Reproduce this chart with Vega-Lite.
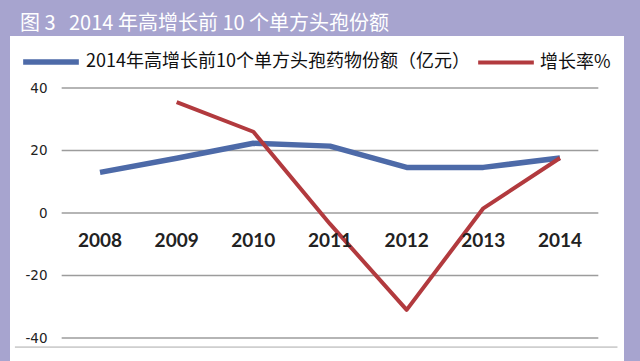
{
  "$schema": "https://vega.github.io/schema/vega-lite/v6.json",
  "width": 640,
  "height": 361,
  "autosize": {"type": "fit", "contains": "padding"},
  "padding": {"left": 10, "right": 16, "top": 14, "bottom": 0},
  "background": "#a7a4cf",
  "title": {
    "text": "图 3\u00a0\u00a0\u00a02014 年高增长前 10 个单方头孢份额",
    "anchor": "start",
    "frame": "group",
    "dx": 10,
    "offset": 2,
    "color": "white",
    "font": "Noto Sans CJK SC",
    "fontSize": 20,
    "fontWeight": "normal"
  },
  "config": {
    "view": {"fill": "white", "stroke": null},
    "axisY": {
      "offset": -40, "domain": false, "ticks": false, "grid": false,
      "labelPadding": 3, "labelFont": "DejaVu Sans", "labelFontSize": 13.5, "labelColor": "#222"
    }
  },
  "datasets": {
    "grid": [{"v": 40}, {"v": 20}, {"v": 0}, {"v": -20}, {"v": -40}],
    "base": [{"y": -42.9, "x1": 2006.89, "x2": 2014.75}],
    "years": [
      {"year": 2008, "label": "2008"}, {"year": 2009, "label": "2009"}, {"year": 2010, "label": "2010"},
      {"year": 2011, "label": "2011"}, {"year": 2012, "label": "2012"}, {"year": 2013, "label": "2013"},
      {"year": 2014, "label": "2014"}
    ],
    "series": [
      {"series": "2014年高增长前10个单方头孢药物份额（亿元）", "year": 2008, "value": 13.0},
      {"series": "2014年高增长前10个单方头孢药物份额（亿元）", "year": 2009, "value": 17.5},
      {"series": "2014年高增长前10个单方头孢药物份额（亿元）", "year": 2010, "value": 22.3},
      {"series": "2014年高增长前10个单方头孢药物份额（亿元）", "year": 2011, "value": 21.4},
      {"series": "2014年高增长前10个单方头孢药物份额（亿元）", "year": 2012, "value": 14.6},
      {"series": "2014年高增长前10个单方头孢药物份额（亿元）", "year": 2013, "value": 14.6},
      {"series": "2014年高增长前10个单方头孢药物份额（亿元）", "year": 2014, "value": 17.6},
      {"series": "增长率%", "year": 2009, "value": 35.5},
      {"series": "增长率%", "year": 2010, "value": 26.0},
      {"series": "增长率%", "year": 2011, "value": -3.5},
      {"series": "增长率%", "year": 2012, "value": -31.0},
      {"series": "增长率%", "year": 2013, "value": 1.5},
      {"series": "增长率%", "year": 2014, "value": 17.6}
    ]
  },
  "layer": [
    {
      "data": {"name": "grid"},
      "mark": {"type": "rule", "color": "#9c9c9c", "strokeWidth": 1.5},
      "encoding": {
        "x": {"datum": 2007.5, "type": "quantitative", "scale": {"domain": [2006.826, 2014.835], "nice": false, "zero": false}, "axis": null},
        "x2": {"datum": 2014.5},
        "y": {
          "field": "v", "type": "quantitative", "title": null,
          "scale": {"domain": [-47.36, 56.64], "nice": false, "zero": false},
          "axis": {"values": [-40, -20, 0, 20, 40], "labelExpr": "'' + datum.value"}
        }
      }
    },
    {
      "data": {"name": "base"},
      "mark": {"type": "rule", "color": "#aaaaaa", "strokeWidth": 1},
      "encoding": {
        "x": {"field": "x1", "type": "quantitative", "axis": null},
        "x2": {"field": "x2"},
        "y": {"field": "y", "type": "quantitative", "title": null, "axis": {"values": [-40, -20, 0, 20, 40], "labelExpr": "'' + datum.value"}}
      }
    },
    {
      "data": {"name": "series"},
      "mark": {"type": "line", "strokeJoin": "round", "strokeCap": "butt"},
      "encoding": {
        "x": {"field": "year", "type": "quantitative", "axis": null},
        "y": {"field": "value", "type": "quantitative", "title": null, "axis": {"values": [-40, -20, 0, 20, 40], "labelExpr": "'' + datum.value"}},
        "color": {
          "field": "series", "type": "nominal",
          "scale": {"domain": ["2014年高增长前10个单方头孢药物份额（亿元）", "增长率%"], "range": ["#4d6aa8", "#b23a3e"]},
          "legend": {
            "orient": "none", "legendX": 10, "legendY": -5, "direction": "horizontal", "title": null,
            "symbolType": "stroke", "symbolSize": 3100, "symbolStrokeWidth": 5, "symbolOffset": 0,
            "labelFont": "Noto Sans CJK SC", "labelFontSize": 18, "labelColor": "#111", "labelLimit": 1000,
            "labelOffset": 4, "columnPadding": 0, "padding": 0
          }
        },
        "strokeWidth": {
          "field": "series", "type": "nominal",
          "scale": {"domain": ["2014年高增长前10个单方头孢药物份额（亿元）", "增长率%"], "range": [5.5, 4]},
          "legend": null
        }
      }
    },
    {
      "data": {"name": "years"},
      "mark": {"type": "text", "dy": 28, "baseline": "middle", "align": "center", "font": "Lato", "fontWeight": "bold", "fontSize": 19, "color": "#222"},
      "encoding": {
        "x": {"field": "year", "type": "quantitative", "axis": null},
        "y": {"datum": 0, "type": "quantitative", "title": null, "axis": {"values": [-40, -20, 0, 20, 40], "labelExpr": "'' + datum.value"}},
        "text": {"field": "label", "type": "nominal"}
      }
    }
  ]
}
